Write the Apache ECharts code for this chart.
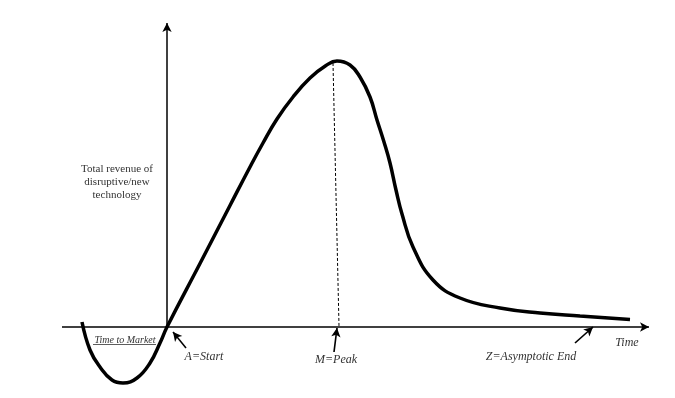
<!DOCTYPE html>
<html>
<head>
<meta charset="utf-8">
<script src="https://cdn.jsdelivr.net/npm/echarts@6/dist/echarts.min.js"></script>
<style>
  html, body { margin: 0; padding: 0; background: #fff; }
  #chart { width: 675px; height: 398px; }
</style>
</head>
<body>
<div id="chart"></div>
<script>
// curve: time (origin = A) and revenue (0 = time axis)
const timeX = [-85, -77, -67, -55, -44, -30, -17, -7, 0, 33, 63, 83, 96, 110, 126, 143, 159, 170,
  183, 193, 203, 210, 217, 223, 229, 235, 246, 266, 293, 333, 373, 413, 463];
const revenueY = [5, -23, -40, -53, -56, -51, -36, -16, 0, 63.5, 121.5, 160, 184, 208, 230, 249, 261.5, 266,
  262, 250, 230, 207, 185, 164, 137, 113, 80, 47, 29, 19, 14, 11, 7.5];

// axes extent
const timeAxisRange = [-105, 482];
const revenueAxisTop = 304;

// peak marker (dashed drop line)
const peakLine = [[166, 264], [172, 1]];

// pointer arrows: [from, to]
const arrowStart = [[19, -21], [6, -5]];
const arrowPeak = [[167, -25], [170, -1]];
const arrowEnd = [[408, -16], [426, 0]];

const labelNames = ['Time to Market', 'A=Start', 'M=Peak', 'Z=Asymptotic End', 'Time'];
const labelCoords = [[-42, -13], [37, -30], [169, -33], [364, -30], [460, -16]];
const yTitle = 'Total revenue of\ndisruptive/new\ntechnology';
const yTitleCoord = [-50, 145];
const underline = [[-74, -17], [-11, -17]];

const curve = timeX.map((t, i) => [t, revenueY[i]]);

function seg(a, b, endSymbol, style) {
  return [
    {coord: a, symbol: 'none'},
    {coord: b, symbol: endSymbol, symbolSize: endSymbol === 'none' ? 0 : [7, 9], lineStyle: style}
  ];
}

let chart = echarts.init(document.getElementById('chart'));
chart.setOption({
  animation: false,
  grid: {left: 0, right: 0, top: 0, bottom: 0},
  xAxis: {type: 'value', min: -167, max: 508, show: false},
  yAxis: {type: 'value', min: -71, max: 327, show: false},
  series: [
    {
      type: 'line',
      data: curve,
      smooth: 0.45,
      symbol: 'none',
      silent: true,
      lineStyle: {color: '#000', width: 3.5},
      z: 3,
      markLine: {
        silent: true,
        label: {show: false},
        lineStyle: {color: '#000', width: 1.5, type: 'solid'},
        data: [
          seg([timeAxisRange[0], 0], [timeAxisRange[1], 0], 'arrow', {width: 1.5}),
          seg([0, 0], [0, revenueAxisTop], 'arrow', {width: 1.5}),
          seg(peakLine[0], peakLine[1], 'none', {width: 1, type: [3, 2]}),
          seg(arrowStart[0], arrowStart[1], 'arrow', {width: 1.6}),
          seg(arrowPeak[0], arrowPeak[1], 'arrow', {width: 1.6}),
          seg(arrowEnd[0], arrowEnd[1], 'arrow', {width: 1.6}),
          seg(underline[0], underline[1], 'none', {width: 0.8, color: '#333'})
        ]
      },
      markPoint: {
        silent: true,
        symbol: 'circle',
        symbolSize: 0,
        label: {
          show: true,
          position: 'inside',
          formatter: '{b}',
          color: '#333',
          fontFamily: 'Liberation Serif',
          fontStyle: 'italic',
          fontSize: 12
        },
        data: labelNames.map((n, i) => ({
          name: n,
          coord: labelCoords[i],
          label: i === 0 ? {fontSize: 10} : {}
        })).concat([{
          name: yTitle,
          coord: yTitleCoord,
          label: {fontStyle: 'normal', fontSize: 11, lineHeight: 13, align: 'center'}
        }])
      }
    }
  ]
});
</script>
</body>
</html>
